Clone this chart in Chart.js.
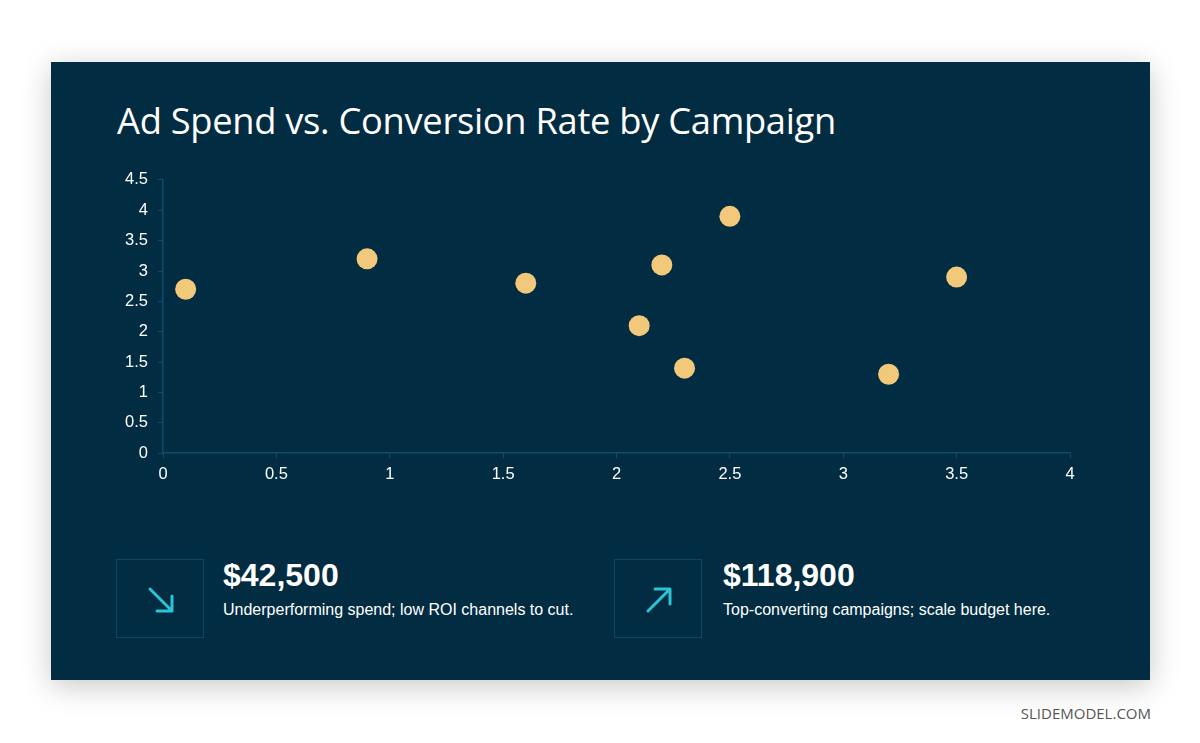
<!DOCTYPE html>
<html>
<head>
<meta charset="utf-8">
<title>Ad Spend vs. Conversion Rate by Campaign</title>
<script src="https://cdn.jsdelivr.net/npm/chart.js@4.4.1/dist/chart.umd.min.js"></script>
<style>
  html, body { margin: 0; padding: 0; background: #ffffff; }
  body { width: 1200px; height: 743px; position: relative; overflow: hidden; }
  .slide {
    position: absolute; left: 51px; top: 62px; width: 1099px; height: 618px;
    background: #022c41;
    box-shadow: 0 6px 28px rgba(0,0,0,0.22);
  }
  .title {
    position: absolute; left: 66px; top: 33px; margin: 0;
    font-family: "Open Sans", sans-serif; font-weight: 400; font-size: 36.3px;
    color: #ffffff; letter-spacing: -0.3px; white-space: nowrap;
  }
  .chart-wrap { position: absolute; left: 49px; top: 98px; width: 1000px; height: 330px; }
  .card { position: absolute; top: 497px; height: 80px; }
  .icon {
    position: absolute; left: 0; top: 0; width: 88px; height: 79px;
    border: 1px solid #0d4860; box-sizing: border-box;
  }
  .icon svg { position: absolute; left: 29px; top: 25px; }
  .value {
    position: absolute; left: 107px; top: -2px; white-space: nowrap;
    font-family: "Liberation Sans", Arial, sans-serif; font-weight: 700; font-size: 32px; color: #ffffff;
  }
  .desc {
    position: absolute; left: 107px; top: 42px; white-space: nowrap;
    font-family: "Liberation Sans", Arial, sans-serif; font-size: 16px; color: #ffffff;
  }
  .card.right .value, .card.right .desc { left: 109px; }
  .brand {
    position: absolute; right: 49px; top: 703px;
    font-family: "Open Sans", sans-serif; font-size: 15px; color: #555555;
  }
</style>
</head>
<body>
<div class="slide">
  <h1 class="title">Ad Spend vs. Conversion Rate by Campaign</h1>
  <div class="chart-wrap"><canvas id="scatter"></canvas></div>

  <div class="card" style="left:65px;">
    <div class="icon">
      <svg width="30" height="30" viewBox="0 0 30 30">
        <path d="M4 4 L26 26 M26 11 L26 26 L11 26" fill="none" stroke="#2cc3d7" stroke-width="3" stroke-linecap="round" stroke-linejoin="round"/>
      </svg>
    </div>
    <div class="value">$42,500</div>
    <div class="desc">Underperforming spend; low ROI channels to cut.</div>
  </div>

  <div class="card right" style="left:563px;">
    <div class="icon">
      <svg width="30" height="30" viewBox="0 0 30 30">
        <path d="M4 26 L26 4 M11 4 L26 4 L26 19" fill="none" stroke="#2cc3d7" stroke-width="3" stroke-linecap="round" stroke-linejoin="round"/>
      </svg>
    </div>
    <div class="value">$118,900</div>
    <div class="desc">Top-converting campaigns; scale budget here.</div>
  </div>
</div>
<div class="brand">SLIDEMODEL.COM</div>

<script>
// campaign ad spend (x) and conversion rate (y)
const spend = [0.1, 0.9, 1.6, 2.1, 2.2, 2.3, 2.5, 3.2, 3.5];
const conversion = [2.7, 3.2, 2.8, 2.1, 3.1, 1.4, 3.9, 1.3, 2.9];
const xTicks = [0, 0.5, 1, 1.5, 2, 2.5, 3, 3.5, 4];
const yTicks = [0, 0.5, 1, 1.5, 2, 2.5, 3, 3.5, 4, 4.5];

const axisColor = '#0d4d6b';
const dotColor = '#f2c87a';
const tickFont = { family: 'Liberation Sans, Arial, sans-serif', size: 16.5 };

const points = spend.map((x, i) => ({ x: x, y: conversion[i] }));

new Chart(document.getElementById('scatter'), {
  type: 'scatter',
  data: {
    datasets: [{
      label: 'Campaigns',
      data: points,
      backgroundColor: dotColor,
      borderColor: dotColor,
      pointRadius: 10.5,
      pointHoverRadius: 10.5,
      borderWidth: 0
    }]
  },
  options: {
    responsive: true,
    maintainAspectRatio: false,
    animation: false,
    layout: { padding: { top: 19, right: 30, left: 0, bottom: 0 } },
    plugins: { legend: { display: false }, tooltip: { enabled: false } },
    scales: {
      x: {
        type: 'linear',
        min: xTicks[0],
        max: xTicks[xTicks.length - 1],
        afterBuildTicks: (axis) => { axis.ticks = xTicks.map(v => ({ value: v })); },
        ticks: { color: '#ffffff', padding: 6, maxRotation: 0, font: tickFont, callback: (v) => String(v) },
        grid: { drawOnChartArea: false, drawTicks: true, tickLength: 5, color: axisColor, lineWidth: 1 },
        border: { color: axisColor, width: 1.5 }
      },
      y: {
        type: 'linear',
        min: yTicks[0],
        max: yTicks[yTicks.length - 1],
        afterBuildTicks: (axis) => { axis.ticks = yTicks.map(v => ({ value: v })); },
        afterFit: (axis) => { axis.width = 63; },
        ticks: { color: '#ffffff', padding: 10, font: tickFont, callback: (v) => String(v) },
        grid: { drawOnChartArea: false, drawTicks: true, tickLength: 5, color: axisColor, lineWidth: 1 },
        border: { color: axisColor, width: 1.5 }
      }
    }
  }
});
</script>
</body>
</html>
